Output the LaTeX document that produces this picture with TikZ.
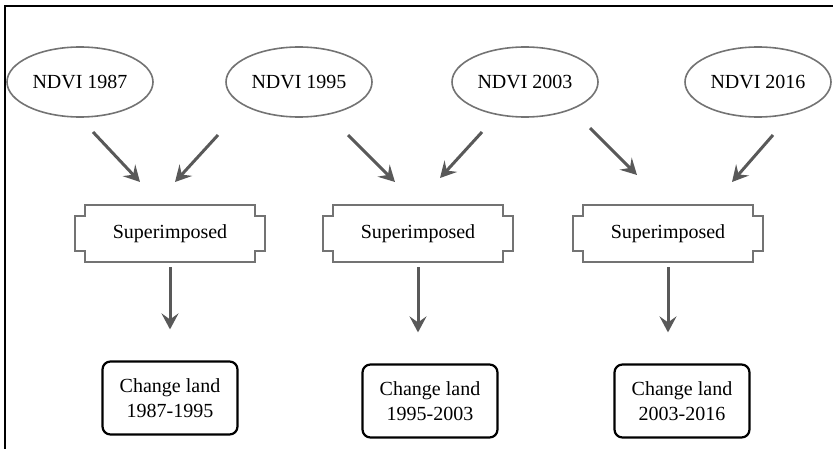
\documentclass[tikz,border=0pt]{standalone}
\usepackage{fontspec}
\setmainfont{Liberation Serif}
\usetikzlibrary{shapes.geometric,arrows.meta,calc,positioning}
\tikzset{
  ndvi/.style={ellipse, draw=black!55, line width=1.6pt, minimum width=146pt,
    minimum height=70pt, inner sep=0pt, font=\fontsize{20}{24}\selectfont},
  superbox/.style={rectangle, minimum width=190pt, minimum height=57pt,
    inner sep=0pt, font=\fontsize{20}{24}\selectfont},
  notchline/.style={draw=black!55, line width=2pt},
  landbox/.style={rectangle, rounded corners=8pt, draw=black, line width=2.2pt,
    minimum width=135pt, minimum height=73pt, inner sep=0pt, align=center,
    font=\fontsize{20}{25}\selectfont},
  arr/.style={-{Stealth[length=16pt,width=17pt,inset=6pt]}, draw=black!65,
    line width=3pt}
}
% outline of a box with stepped corners
\newcommand{\notchbox}[1]{%
  \draw[notchline] ($(#1.north west)+(10,0)$) -- ($(#1.north east)+(-10,0)$)
    -- ++(0,11) -- ++(10,0) -- ($(#1.south east)+(0,-11)$) -- ++(-10,0)
    -- ++(0,11) -- ($(#1.south west)+(10,0)$) -- ++(0,-11) -- ++(-10,0)
    -- ($(#1.north west)+(0,11)$) -- ++(10,0) -- cycle;}

\begin{document}
\begin{tikzpicture}[x=1pt,y=-1pt]
  \useasboundingbox (0,0) rectangle (833,449);
  \draw[line width=1.8pt] (5,449) -- (5,6) -- (833,6);

  % NDVI inputs
  \node[ndvi] (n1) at (80,82)  {NDVI 1987};
  \node[ndvi] (n2) at (299,82) {NDVI 1995};
  \node[ndvi] (n3) at (525,82) {NDVI 2003};
  \node[ndvi] (n4) at (758,82) {NDVI 2016};

  % overlays
  \node[superbox] (s1) at (170,233.5) {Superimposed};
  \node[superbox] (s2) at (418,233.5) {Superimposed};
  \node[superbox] (s3) at (668,233.5) {Superimposed};
  \foreach \s in {s1,s2,s3} {\notchbox{\s}}

  % results
  \node[landbox] (c1) at (170,398) {Change land\\1987-1995};
  \node[landbox] (c2) at (430,401) {Change land\\1995-2003};
  \node[landbox] (c3) at (682,401) {Change land\\2003-2016};

  % arrow ends
  \coordinate (a1) at (93,132);  \coordinate (b1) at (140,182);
  \coordinate (a2) at (218,135); \coordinate (b2) at (175,182);
  \coordinate (a3) at (348,135); \coordinate (b3) at (395,182);
  \coordinate (a4) at (482,132); \coordinate (b4) at (440,178);
  \coordinate (a5) at (590,128); \coordinate (b5) at (637,175);
  \coordinate (a6) at (773,135); \coordinate (b6) at (732,182);
  \foreach \i in {1,...,6} {\draw[arr] (a\i) -- (b\i);}

  \foreach \i in {1,2,3}
    \draw[arr, shorten <=5pt, shorten >=31pt] (s\i.south) -- (s\i.south |- c\i.north);
\end{tikzpicture}
\end{document}
